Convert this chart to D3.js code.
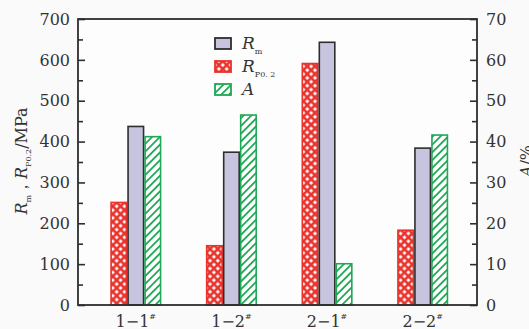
<!DOCTYPE html>
<html><head><meta charset="utf-8">
<script src="https://cdn.jsdelivr.net/npm/d3@7"></script>
<style>body{margin:0;background:#fafafa;}svg{display:block;} text{font-family:"DejaVu Serif","Liberation Serif","Times New Roman",serif;}</style>
</head><body>
<script>
const categories = ["1−1", "1−2", "2−1", "2−2"];
const rm = [437, 374, 643, 384];
const rp02 = [251, 145, 591, 183];
const elong = [41.2, 46.5, 10.1, 41.6];
const leftTicks = [0,100,200,300,400,500,600,700];
const rightTicks = [0,10,20,30,40,50,60,70];

const W = 529, H = 329;
const m = {l:78, r:477, t:19, b:305};
const svg = d3.select("body").append("svg").attr("width", W).attr("height", H);

const defs = svg.append("defs");
const red = "#e8322b", green = "#1fa855", purple = "#c6c4de", dark = "#2e2e2e";
const pr = defs.append("pattern").attr("id","cross").attr("patternUnits","userSpaceOnUse")
  .attr("width",5.5).attr("height",5.5).attr("patternTransform","rotate(45)");
pr.append("rect").attr("width",5.5).attr("height",5.5).attr("fill",red);
pr.append("rect").attr("x",1.4).attr("y",1.4).attr("width",2.9).attr("height",2.9).attr("fill","#fff");
const pg = defs.append("pattern").attr("id","hatch").attr("patternUnits","userSpaceOnUse")
  .attr("width",5.5).attr("height",5.5).attr("patternTransform","rotate(45)");
pg.append("rect").attr("width",5.5).attr("height",5.5).attr("fill","#fff");
pg.append("rect").attr("x",0).attr("y",0).attr("width",1.8).attr("height",5.5).attr("fill",green);

const x = d3.scaleBand().domain(categories).range([88, 470.5]).padding(0);
const sub = d3.scaleBand().domain(["rp","rm","a"]).range([-25.5, 25.5]);
const yL = d3.scaleLinear().domain([0,700]).range([m.b, m.t]);
const yR = d3.scaleLinear().domain([0,70]).range([m.b, m.t]);

svg.append("rect").attr("x",m.l).attr("y",m.t).attr("width",m.r-m.l).attr("height",m.b-m.t).attr("fill","#fdfdfd");

const series = [
  {key:"rp", vals:rp02, y:yL, fill:"url(#cross)", stroke:red},
  {key:"rm", vals:rm, y:yL, fill:purple, stroke:dark},
  {key:"a", vals:elong, y:yR, fill:"url(#hatch)", stroke:green}
];
series.forEach(s => {
  svg.append("g").selectAll("rect").data(categories).join("rect")
    .attr("x", (d) => x(d) + x.bandwidth()/2 + sub(s.key) + 0.75)
    .attr("width", sub.bandwidth() - 1.5)
    .attr("y", (d,i) => s.y(s.vals[i]))
    .attr("height", (d,i) => m.b - s.y(s.vals[i]))
    .attr("fill", s.fill).attr("stroke", s.stroke).attr("stroke-width", 1.6);
});

// axes
const axL = d3.axisLeft(yL).tickValues(d3.range(0,701,50)).tickSize(-7).tickFormat("");
const gL = svg.append("g").attr("transform",`translate(${m.l},0)`).call(axL);
gL.selectAll(".tick line").attr("x2", d => d%100===0 ? 7 : 5);
const axR = d3.axisRight(yR).tickValues(d3.range(0,71,5)).tickSize(-7).tickFormat("");
const gR = svg.append("g").attr("transform",`translate(${m.r},0)`).call(axR);
gR.selectAll(".tick line").attr("x2", d => d%10===0 ? -7 : -5);
[gL,gR].forEach(g => { g.select(".domain").remove(); g.selectAll(".tick line").attr("stroke",dark).attr("stroke-width",1.6); });
svg.append("rect").attr("x",m.l).attr("y",m.t).attr("width",m.r-m.l).attr("height",m.b-m.t)
  .attr("fill","none").attr("stroke",dark).attr("stroke-width",1.8);

svg.append("g").selectAll("text").data(leftTicks).join("text")
  .attr("x", 70).attr("y", d => yL(d)).attr("dy","0.36em").attr("text-anchor","end")
  .attr("font-size",16).attr("fill","#333").text(d=>d);
svg.append("g").selectAll("text").data(rightTicks).join("text")
  .attr("x", 486).attr("y", d => yR(d)).attr("dy","0.36em").attr("text-anchor","start")
  .attr("font-size",16).attr("fill","#333").text(d=>d);

// x labels
const xl = svg.append("g").selectAll("text").data(categories).join("text")
  .attr("x", d => x(d)+x.bandwidth()/2).attr("y", 327).attr("text-anchor","middle")
  .attr("font-size",16).attr("fill","#333");
xl.append("tspan").text(d=>d);
xl.append("tspan").attr("font-size",8).attr("font-style","italic").attr("dy",-8).text("#");

// y titles
const tl = svg.append("text").attr("transform","translate(27,161) rotate(-90)")
  .attr("text-anchor","middle").attr("font-size",16).attr("fill","#333");
tl.append("tspan").attr("font-style","italic").text("R");
tl.append("tspan").attr("font-size",8).attr("dy",4).text("m");
tl.append("tspan").attr("dy",-4).text("，");
tl.append("tspan").attr("font-style","italic").text("R");
tl.append("tspan").attr("font-size",8).attr("dy",4).text("P0.2");
tl.append("tspan").attr("dy",-4).text("/MPa");
const tr = svg.append("text").attr("transform","translate(532,161) rotate(-90)")
  .attr("text-anchor","middle").attr("font-size",16).attr("fill","#333");
tr.append("tspan").attr("font-style","italic").text("A");
tr.append("tspan").text("/%");

// legend
const legend = [
  {fill:purple, stroke:dark, main:"R", sub:"m"},
  {fill:"url(#cross)", stroke:red, main:"R", sub:"P0. 2"},
  {fill:"url(#hatch)", stroke:green, main:"A", sub:""}
];
const lg = svg.append("g").selectAll("g").data(legend).join("g")
  .attr("transform", (d,i) => `translate(215,${38 + i*23})`);
lg.append("rect").attr("width",16).attr("height",11).attr("fill",d=>d.fill)
  .attr("stroke",d=>d.stroke).attr("stroke-width",1.8);
const lt = lg.append("text").attr("x",27).attr("y",11).attr("font-size",17).attr("fill","#333");
lt.append("tspan").attr("font-style","italic").text(d=>d.main);
lt.append("tspan").attr("font-size",8).attr("dy",5).text(d=>d.sub);
</script>
</body></html>
